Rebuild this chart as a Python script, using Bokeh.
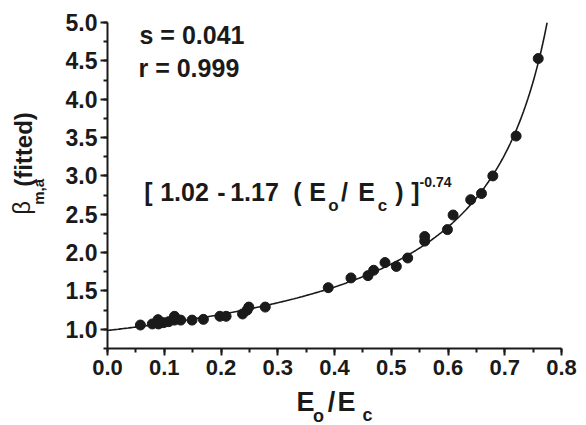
import math
import numpy as np
from bokeh.plotting import figure
from bokeh.layouts import row, column
from bokeh.models import Label, SingleIntervalTicker, PrintfTickFormatter, Range1d
from bokeh.embed import file_html
from bokeh.resources import INLINE

# ---- data ----
ratio_x = [0.058, 0.079, 0.089, 0.089, 0.090, 0.099, 0.108, 0.118, 0.118, 0.129,
           0.149, 0.169, 0.198, 0.209, 0.238, 0.246, 0.249, 0.278, 0.389, 0.429,
           0.459, 0.469, 0.489, 0.509, 0.529, 0.559, 0.559, 0.599, 0.609, 0.640,
           0.659, 0.679, 0.720, 0.759]
beta_y = [1.056, 1.070, 1.126, 1.080, 1.070, 1.087, 1.100, 1.170, 1.120, 1.120,
          1.120, 1.130, 1.170, 1.170, 1.200, 1.250, 1.290, 1.290, 1.543, 1.670,
          1.700, 1.770, 1.870, 1.820, 1.930, 2.210, 2.150, 2.300, 2.490, 2.690,
          2.770, 3.000, 3.520, 4.530]

# fitted model parameters (from the annotation)
fit_a, fit_b, fit_p = 1.02, 1.17, -0.74
stat_texts = ["s = 0.041", "r = 0.999"]

x_ticks_interval = 0.1
y_ticks_interval = 0.5

# ---- fitted curve ----
y_top = 5.0
x_end = (fit_a - y_top ** (1.0 / fit_p)) / fit_b
curve_x = np.linspace(0.0, x_end, 300)
curve_y = (fit_a - fit_b * curve_x) ** fit_p

FONT = "Liberation Sans"
INK = "#1a1a1a"
K = 0.42  # baseline correction (fraction of font size)

LEFT_W = 50
MAIN_W = 536
MAIN_H = 385
BOTTOM_H = 40

p = figure(width=MAIN_W, height=MAIN_H, output_backend="svg", toolbar_location=None,
           x_range=Range1d(0.0, 0.8), y_range=Range1d(0.75, 5.0),
           min_border_left=57, min_border_right=25, min_border_top=22,
           min_border_bottom=37)
p.outline_line_color = None
p.xgrid.visible = False
p.ygrid.visible = False
p.background_fill_color = "white"
p.border_fill_color = "white"

p.line(curve_x, curve_y, line_color=INK, line_width=1.6)
p.scatter(ratio_x, beta_y, size=10, fill_color=INK, line_color=INK)

for ax, interval in ((p.xaxis[0], x_ticks_interval), (p.yaxis[0], y_ticks_interval)):
    ax.ticker = SingleIntervalTicker(interval=interval, num_minor_ticks=2)
    ax.formatter = PrintfTickFormatter(format="%.1f")
    ax.axis_line_width = 2
    ax.axis_line_color = INK
    ax.major_tick_line_width = 2
    ax.minor_tick_line_width = 2
    ax.major_tick_line_color = INK
    ax.minor_tick_line_color = INK
    ax.major_tick_out = 7
    ax.major_tick_in = 0
    ax.minor_tick_out = 4
    ax.minor_tick_in = 0
    ax.major_label_text_font = FONT
    ax.major_label_text_font_style = "bold"
    ax.major_label_text_color = INK
p.xaxis[0].major_label_text_font_size = "22px"
p.yaxis[0].major_label_text_font_size = "23px"
p.xaxis[0].major_label_standoff = 4
p.yaxis[0].major_label_standoff = 3


def strip(w, h):
    f = figure(width=w, height=h, output_backend="svg", toolbar_location=None,
               x_axis_type=None, y_axis_type=None, tools="",
               x_range=Range1d(0, w), y_range=Range1d(h, 0),
               min_border=0, min_border_left=0, min_border_right=0,
               min_border_top=0, min_border_bottom=0)
    f.outline_line_color = None
    f.background_fill_color = "white"
    f.border_fill_color = "white"
    f.grid.visible = False
    return f


def lab(fig, text, x, y, size, bold=True, angle=0.0, align="center", units="data"):
    # (x, y) is the intended baseline point in pixels
    if angle:
        x = x - K * size
    else:
        y = y - K * size
    fig.add_layout(Label(x=x, y=y, x_units=units, y_units=units, text=text,
                         text_font=FONT, text_font_style="bold" if bold else "normal",
                         text_font_size=f"{size}px", text_color=INK,
                         text_baseline="alphabetic", text_align=align,
                         angle=angle, angle_units="rad"))


# annotations inside the main plot (canvas units of the main figure)
def mlab(text, x_img, y_img, size, align="center"):
    lab(p, text, x_img - LEFT_W, y_img, size, align=align, units="canvas")


mlab(stat_texts[0], 139, 45, 25, align="left")
mlab(stat_texts[1], 138, 78, 25, align="left")

# formula  [ 1.02 - 1.17 ( Eo / Ec ) ]^-0.74
mlab("[", 148, 202, 25)
mlab(f"{fit_a:.2f}", 184, 202, 25)
mlab("-", 221, 202, 25)
mlab(f"{fit_b:.2f}", 254, 202, 25)
mlab("(", 297, 202, 25)
mlab("E", 317, 202, 25)
mlab("o", 333, 212, 17)
mlab("/", 344, 202, 25)
mlab("E", 366, 202, 25)
mlab("c", 382, 212, 17)
mlab(")", 399, 202, 25)
mlab("]", 415, 202, 25)
mlab(f"{fit_p:.2f}", 435, 187, 14)

# y-axis label strip:  β m,a (fitted)
left = strip(LEFT_W, MAIN_H)
up = math.pi / 2
lab(left, "β", 31, 219, 24, bold=False, angle=up)
lab(left, "m,a", 44, 200, 15, angle=up)
lab(left, "(fitted)", 33, 150, 24, angle=up)

# x-axis label strip:  Eo / Ec
bottom = strip(LEFT_W + MAIN_W, BOTTOM_H)
bottom.y_range = Range1d(MAIN_H + BOTTOM_H, MAIN_H)
lab(bottom, "E", 305, 413, 27)
lab(bottom, "o", 318, 423, 18)
lab(bottom, "/", 331, 413, 27)
lab(bottom, "E", 346, 413, 27)
lab(bottom, "c", 367, 422, 18)

layout = column(row(left, p), bottom)
open("out.html", "w").write(file_html(layout, INLINE))
